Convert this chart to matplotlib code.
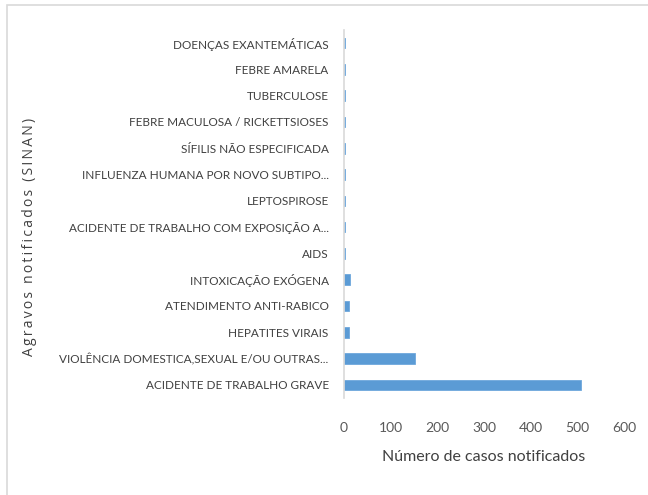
import matplotlib
matplotlib.use("Agg")
import matplotlib.pyplot as plt
from matplotlib.patches import Rectangle

categories = [
    "ACIDENTE DE TRABALHO GRAVE",
    "VIOLÊNCIA DOMESTICA,SEXUAL E/OU OUTRAS...",
    "HEPATITES VIRAIS",
    "ATENDIMENTO ANTI-RABICO",
    "INTOXICAÇÃO EXÓGENA",
    "AIDS",
    "ACIDENTE DE TRABALHO COM EXPOSIÇÃO A...",
    "LEPTOSPIROSE",
    "INFLUENZA HUMANA POR NOVO SUBTIPO...",
    "SÍFILIS NÃO ESPECIFICADA",
    "FEBRE MACULOSA / RICKETTSIOSES",
    "TUBERCULOSE",
    "FEBRE AMARELA",
    "DOENÇAS EXANTEMÁTICAS",
]
values = [508, 153, 11, 11, 12, 2, 2, 2, 2, 2, 2, 2, 2, 2]
xticks = [0, 100, 200, 300, 400, 500, 600]

plt.rcParams['font.family'] = ['Lato', 'DejaVu Sans']

W, H = 648, 495
fig = plt.figure(figsize=(W / 100, H / 100), dpi=100)
ax = fig.add_axes([344 / W, 1 - 398 / H, (624 - 344) / W, (398 - 30) / H])

ypos = list(range(len(categories)))
ax.barh(ypos, values, height=0.4, color="#5b9bd5", edgecolor="#6fa8dc", linewidth=0.6)
ax.set_ylim(-0.5, len(categories) - 0.5)
ax.set_xlim(0, 600)
ax.set_yticks(ypos)
ax.set_yticklabels(categories, fontsize=8.5, color="#404040")
ax.set_xticks(xticks)
ax.set_xticklabels([str(t) for t in xticks], fontsize=10, color="#595959")
ax.tick_params(axis="both", length=0)
ax.tick_params(axis="y", pad=11)
ax.tick_params(axis="x", pad=17)
for s in ["top", "right", "bottom"]:
    ax.spines[s].set_visible(False)
ax.spines["left"].set_color("#d9d9d9")
ax.spines["left"].set_linewidth(1.2)

ax.set_xlabel("Número de casos notificados", fontsize=11.5, color="#404040", labelpad=12)
ylab = "Agravos notificados (SINAN)"
ylab_spaced = "\u2009".join(ylab)
fig.text(30 / W, 1 - 237 / H, ylab_spaced,
         rotation=90, ha="center", va="center", fontsize=10, color="#404040",
         family=["Open Sans", "DejaVu Sans"])

fig.patches.append(Rectangle((6.5 / W, -0.1), 1.2, (1.1 - 5.5 / H), transform=fig.transFigure,
                             fill=False, edgecolor="#d9d9d9", linewidth=1.2))

fig.savefig("out.png", dpi=100)
